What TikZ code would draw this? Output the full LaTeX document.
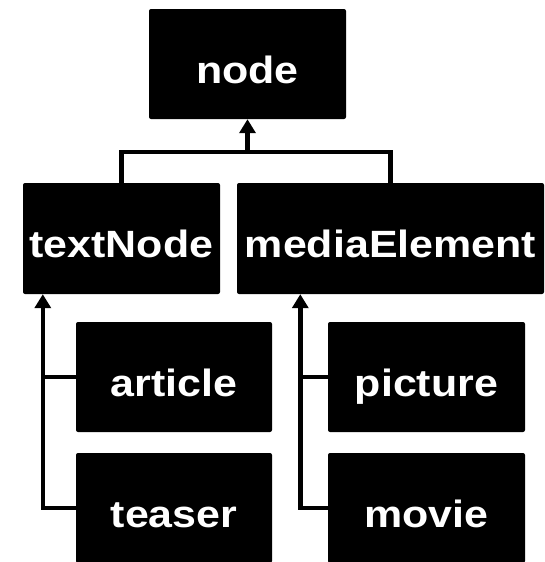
\documentclass[tikz,border=0pt]{standalone}
\usepackage{fontspec}
\usetikzlibrary{arrows.meta,calc}
\newfontfamily\boxfont{Liberation Sans}[FakeStretch=1.13]
\begin{document}
\begin{tikzpicture}[x=1pt,y=-1pt,
  cls/.style={fill=black, draw=none, rounded corners=2pt, inner sep=0pt,
    minimum width=197pt, minimum height=110pt,
    text=white, font=\boxfont\bfseries\fontsize{38}{38}\selectfont,
    text height=38pt, text depth=0pt, align=center},
  wire/.style={line width=4.5pt, line cap=butt, line join=miter},
  inherit/.style={wire, -{Triangle[width=16pt,length=14pt]}}
]
\useasboundingbox (0,0) rectangle (545,562);

% class boxes
\node[cls] (node) at (247.5,64) {node};
\node[cls, minimum height=111pt] (textNode) at (121.5,238.5) {textNode};
\node[cls, minimum height=111pt, minimum width=307pt] (mediaElement) at (390.5,238.5) {mediaElement};
\node[cls, minimum width=196pt] (article) at (174,377) {article};
\node[cls, minimum width=196pt] (teaser) at (174,508) {teaser};
\node[cls] (picture) at (426.5,377) {picture};
\node[cls] (movie) at (426.5,508) {movie};

% junction points of the tree lines
\coordinate (top) at (247.5,152);
\coordinate (trunkL) at ([xshift=20pt]textNode.south west);
\coordinate (trunkR) at ([xshift=63.5pt]mediaElement.south west);

% textNode and mediaElement inherit from node
\draw[wire] (textNode.north) |- (top) -| (mediaElement.north);
\draw[inherit] (top) -- (node.south);

% children of textNode
\draw[inherit] (teaser.west) -| (trunkL);
\draw[wire] (article.west) -- (article.west -| trunkL);

% children of mediaElement
\draw[inherit] (movie.west) -| (trunkR);
\draw[wire] (picture.west) -- (picture.west -| trunkR);
\end{tikzpicture}
\end{document}
